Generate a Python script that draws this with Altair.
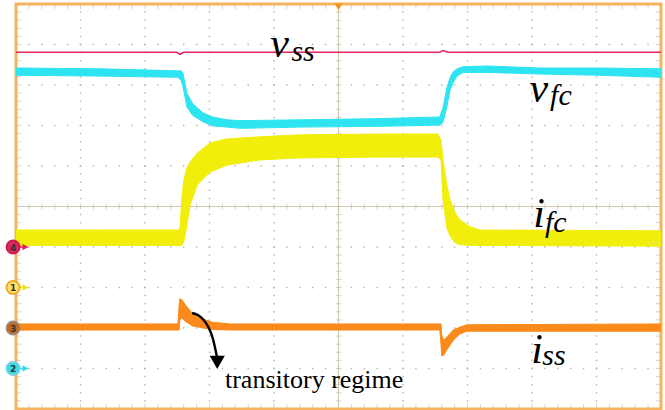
import altair as alt
import pandas as pd

# ---- oscilloscope traces: time in divisions (0..10), amplitude in divisions (-5..5)
red_t = [0.0, 2.49, 2.54, 2.60, 6.57, 6.62, 6.70, 10.0]
red_v = [3.81, 3.81, 3.76, 3.81, 3.81, 3.85, 3.81, 3.81]

cyan_t = [0.00, 1.30, 2.51, 2.56, 2.59, 2.65, 2.74, 2.90, 3.05, 3.27, 3.47, 4.40,
          5.64, 6.57, 6.62, 6.68, 6.73, 6.78, 6.84, 6.93, 7.30, 8.12, 9.05, 10.0]
cyan_lo = [3.24, 3.22, 3.19, 3.12, 2.95, 2.46, 2.25, 2.09, 1.99, 1.96, 1.93, 1.96,
           1.98, 2.01, 2.08, 2.46, 2.88, 3.07, 3.22, 3.31, 3.31, 3.27, 3.24, 3.19]
cyan_hi = [3.42, 3.40, 3.35, 3.35, 3.28, 2.80, 2.54, 2.31, 2.21, 2.14, 2.12, 2.14,
           2.17, 2.21, 2.44, 2.93, 3.18, 3.33, 3.40, 3.45, 3.47, 3.42, 3.42, 3.40]

yel_t = [0.00, 1.30, 2.54, 2.57, 2.60, 2.65, 2.70, 2.81, 3.01, 3.27, 3.78, 4.40,
         5.64, 6.54, 6.59, 6.62, 6.68, 6.73, 6.81, 6.88, 7.04, 7.19, 10.0]
yel_lo = [-0.96, -0.96, -0.96, -0.96, -0.88, -0.46, 0.04, 0.53, 0.85, 1.02, 1.15, 1.20,
          1.22, 1.22, 1.15, 0.16, -0.53, -0.73, -0.90, -0.94, -0.96, -0.96, -0.98]
yel_hi = [-0.58, -0.58, -0.58, 0.16, 0.65, 0.95, 1.10, 1.32, 1.57, 1.67, 1.72, 1.77,
          1.79, 1.79, 1.64, 1.15, 0.53, 0.16, -0.16, -0.33, -0.50, -0.58, -0.60]

org_t = [0.00, 2.51, 2.53, 2.54, 2.57, 2.64, 2.74, 2.90, 3.05, 3.32,
         6.57, 6.59, 6.60, 6.63, 6.68, 6.78, 6.88, 6.99, 10.0]
org_lo = [-3.05, -3.05, -3.05, -2.80, -2.75, -2.85, -2.95, -3.00, -3.04, -3.05,
          -3.05, -3.42, -3.69, -3.67, -3.54, -3.30, -3.15, -3.08, -3.08]
org_hi = [-2.90, -2.90, -2.43, -2.28, -2.30, -2.46, -2.65, -2.78, -2.86, -2.90,
          -2.90, -2.90, -3.17, -3.30, -3.22, -3.05, -2.98, -2.92, -2.90]

# ---- labels
main_text = ["v", "v", "i", "i"]
main_x = [3.94, 7.96, 8.02, 7.99]
main_y = [3.69, 2.58, -0.51, -3.86]
sub_text = ["ss", "fc", "fc", "ss"]
sub_x = [4.27, 8.28, 8.20, 8.16]
sub_y = [3.60, 2.50, -0.62, -3.91]

note_text = ["transitory regime"]
note_x = [3.24]
note_y = [-4.48]

arrow_x = [2.73, 2.82, 2.91, 2.99, 3.05, 3.10, 3.12]
arrow_y = [-2.63, -2.68, -2.80, -3.00, -3.25, -3.59, -3.74]
head_x = [3.12]
head_y = [-3.85]

# ---- channel markers
chan_names = ["4", "1", "3", "2"]
chan_level = [-1, -2, -3, -4]
chan_fill = ["#e3245e", "#fbe36a", "#c4681c", "#36dcea"]
chan_ring = ["#c81e50", "#f0a424", "#9a8a80", "#7ccfe0"]
chan_arrow = ["#e3245e", "#eeea10", "#fb8a1c", "#36dcea"]

# ---- graticule
grid_x = [1, 2, 3, 4, 6, 7, 8, 9]
grid_y = [-4, -3, -2, -1, 1, 2, 3, 4]
minor_x = [round(0.2 * i, 2) for i in range(1, 50)]
minor_y = [round(-5 + 0.2 * i, 2) for i in range(1, 50)]

C_RED, C_CYAN, C_YEL, C_ORG = "#e3245e", "#2ee4f0", "#f2ee0c", "#fb8a1c"
TICK = "#c8bfae"
SERIF = "Times New Roman, Liberation Serif, DejaVu Serif, serif"

xs = alt.Scale(domain=[0, 10], nice=False, zero=False)
ys = alt.Scale(domain=[-5, 5], nice=False, zero=False)


def X(f):
    return alt.X(f, type="quantitative", scale=xs, axis=None)


def Y(f):
    return alt.Y(f, type="quantitative", scale=ys, axis=None)


vgrid = alt.Chart(pd.DataFrame({"x": grid_x, "a": 5, "b": -5})).mark_rule(
    color="#b8b8b8", strokeWidth=1.5, strokeDash=[1.5, 6.6], strokeDashOffset=0.75
).encode(x=X("x"), y=Y("a"), y2="b")

hgrid = alt.Chart(pd.DataFrame({"y": grid_y, "a": 0, "b": 10})).mark_rule(
    color="#b8b8b8", strokeWidth=1.5, strokeDash=[1.5, 11.4], strokeDashOffset=0.75
).encode(y=Y("y"), x=X("a"), x2="b")

cline_v = alt.Chart(pd.DataFrame({"x": [5], "a": [5], "b": [-5]})).mark_rule(
    color="#d2c8b6", strokeWidth=1.2
).encode(x=X("x"), y=Y("a"), y2="b")
cline_h = alt.Chart(pd.DataFrame({"y": [0], "a": [0], "b": [10]})).mark_rule(
    color="#d2c8b6", strokeWidth=1.2
).encode(y=Y("y"), x=X("a"), x2="b")

edge_xt = pd.DataFrame({"x": minor_x * 2, "y": [5] * len(minor_x) + [-5] * len(minor_x)})
edge_yt = pd.DataFrame({"y": minor_y * 2, "x": [0] * len(minor_y) + [10] * len(minor_y)})
cen_xt = pd.DataFrame({"x": minor_x, "y": 0})
cen_yt = pd.DataFrame({"y": minor_y, "x": 5})

t1 = alt.Chart(edge_xt).mark_tick(orient="vertical", size=10, thickness=1, color=TICK, clip=True).encode(x=X("x"), y=Y("y"))
t2 = alt.Chart(edge_yt).mark_tick(orient="horizontal", size=10, thickness=1, color=TICK, clip=True).encode(x=X("x"), y=Y("y"))
t3 = alt.Chart(cen_xt).mark_tick(orient="vertical", size=6, thickness=1, color=TICK).encode(x=X("x"), y=Y("y"))
t4 = alt.Chart(cen_yt).mark_tick(orient="horizontal", size=6, thickness=1, color=TICK).encode(x=X("x"), y=Y("y"))


def band(t, lo, hi, color):
    df = pd.DataFrame({"t": t, "lo": lo, "hi": hi})
    return alt.Chart(df).mark_area(color=color, opacity=1, stroke=color, strokeWidth=1, clip=True).encode(
        x=X("t"), y=Y("hi"), y2="lo"
    )


yellow = band(yel_t, yel_lo, yel_hi, C_YEL)
cyan = band(cyan_t, cyan_lo, cyan_hi, C_CYAN)
orange = band(org_t, org_lo, org_hi, C_ORG)
red = alt.Chart(pd.DataFrame({"t": red_t, "v": red_v})).mark_line(color=C_RED, strokeWidth=1.6).encode(
    x=X("t"), y=Y("v")
)

main_lab = alt.Chart(pd.DataFrame({"x": main_x, "y": main_y, "s": main_text})).mark_text(
    font=SERIF, fontStyle="italic", fontSize=42, align="left", baseline="alphabetic", color="black"
).encode(x=X("x"), y=Y("y"), text="s:N")
sub_lab = alt.Chart(pd.DataFrame({"x": sub_x, "y": sub_y, "s": sub_text})).mark_text(
    font=SERIF, fontStyle="italic", fontSize=30, align="left", baseline="alphabetic", color="black"
).encode(x=X("x"), y=Y("y"), text="s:N")
note = alt.Chart(pd.DataFrame({"x": note_x, "y": note_y, "s": note_text})).mark_text(
    font=SERIF, fontSize=26, align="left", baseline="alphabetic", color="black"
).encode(x=X("x"), y=Y("y"), text="s:N")

arrow = alt.Chart(pd.DataFrame({"x": arrow_x, "y": arrow_y})).mark_line(
    color="black", strokeWidth=2.4, interpolate="monotone"
).encode(x=X("x"), y=Y("y"))
head = alt.Chart(pd.DataFrame({"x": head_x, "y": head_y})).mark_point(
    shape="triangle-down", size=230, filled=True, color="black", opacity=1
).encode(x=X("x"), y=Y("y"))

mk = pd.DataFrame({"ch": chan_names, "y": chan_level, "x": -0.045, "ax": 0.10})
fill_scale = alt.Scale(domain=chan_names, range=chan_fill)
ring_scale = alt.Scale(domain=chan_names, range=chan_ring)
arr_scale = alt.Scale(domain=chan_names, range=chan_arrow)

ARROW_R = "M-1,-0.12L0,-0.12L0,-0.55L1,0L0,0.55L0,0.12L-1,0.12Z"
ARROW_L = "M1,-0.12L0,-0.12L0,-0.55L-1,0L0,0.55L0,0.12L1,0.12Z"

mk_arrow = alt.Chart(mk).mark_point(shape=ARROW_R, size=150, filled=True, opacity=1).encode(
    x=X("ax"), y=Y("y"), color=alt.Color("ch:N", scale=arr_scale, legend=None)
)
mk_circle = alt.Chart(mk).mark_point(shape="circle", size=175, filled=True, opacity=1, strokeWidth=1.8).encode(
    x=X("x"), y=Y("y"),
    fill=alt.Fill("ch:N", scale=fill_scale, legend=None),
    stroke=alt.Stroke("ch:N", scale=ring_scale, legend=None),
)
mk_text = alt.Chart(mk).mark_text(font="DejaVu Sans", fontSize=9, fontWeight="bold", color="#333333", dy=0.5).encode(
    x=X("x"), y=Y("y"), text="ch:N"
)

right_mark = alt.Chart(pd.DataFrame({"x": [9.89], "y": [-0.90]})).mark_point(
    shape=ARROW_L, size=150, filled=True, color="#eeea30", opacity=1
).encode(x=X("x"), y=Y("y"))
trig = alt.Chart(pd.DataFrame({"x": [5.0], "y": [4.93]})).mark_point(
    shape="triangle-down", size=60, filled=True, color="#f7901e", opacity=1
).encode(x=X("x"), y=Y("y"))

chart = alt.layer(
    vgrid, hgrid, cline_v, cline_h, t1, t2, t3, t4,
    yellow, cyan, orange, red,
    main_lab, sub_lab, note, arrow, head,
    mk_arrow, mk_circle, mk_text, right_mark, trig,
).properties(
    width=645, height=405,
    padding={"left": 16, "top": 4, "right": 4, "bottom": 1},
    autosize=alt.AutoSizeParams(type="none"),
    background="white",
).configure_view(stroke="#f6b35c", strokeWidth=3, fill="white")

chart.save("out.html", embed_options={"renderer": "svg", "actions": False})
